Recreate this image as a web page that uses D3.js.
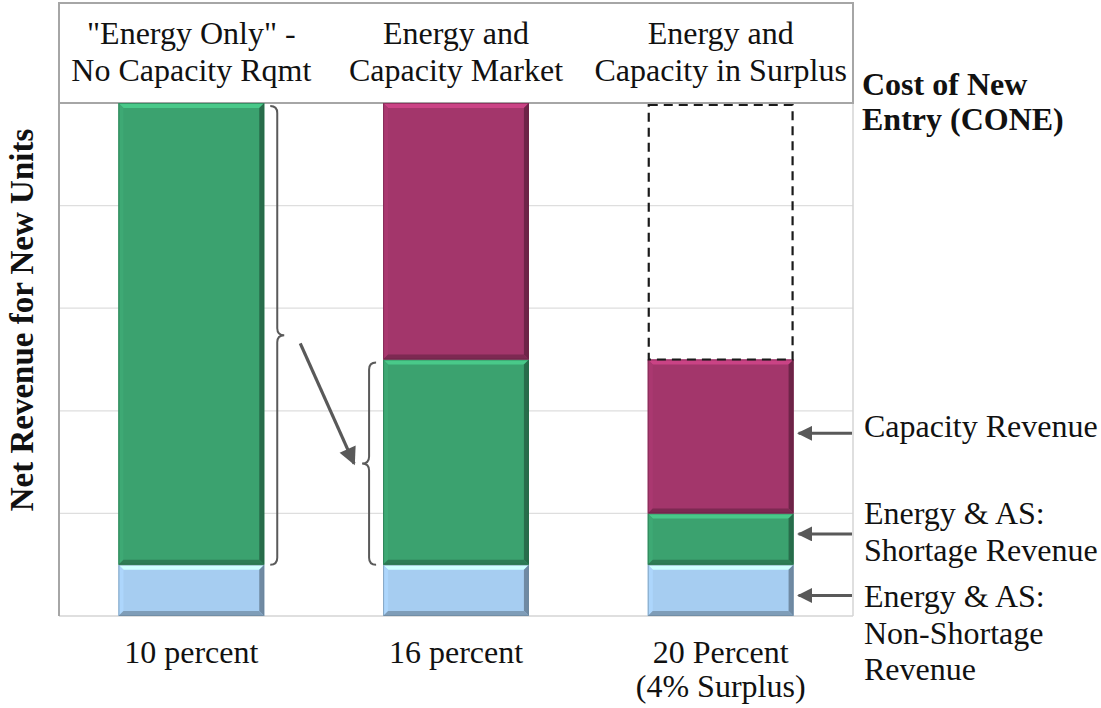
<!DOCTYPE html>
<html>
<head>
<meta charset="utf-8">
<script src="https://cdn.jsdelivr.net/npm/d3@7"></script>
<style>
  html, body { margin: 0; padding: 0; background: #fff; }
  svg { display: block; }
  text { font-family: "Times New Roman", "Liberation Serif", serif; font-weight: 400; fill: #111; }
</style>
</head>
<body>
<svg id="chart" width="1101" height="708"></svg>
<script>
// Market designs (column headers) and reserve-margin tick labels
const headers = [
  ["\"Energy Only\" -", "No Capacity Rqmt"],
  ["Energy and", "Capacity Market"],
  ["Energy and", "Capacity in Surplus"]
];
const tickLabels = [["10 percent"], ["16 percent"], ["20 Percent", "(4% Surplus)"]];
const categories = ["energyOnly", "capacityMarket", "surplus"];

// Net revenue components (relative units; CONE = 5)
const nonShortage = [0.5, 0.5, 0.5];
const shortage    = [4.5, 2.0, 0.5];
const capacity    = [0.0, 2.5, 1.5];
const cone = 5;
const gridTicks = [1, 2, 3, 4];

const seriesNames = ["Non-Shortage", "Shortage", "Capacity"];
const seriesColors = ["#a6cdf1", "#3ba26f", "#a3366b"];

const svg = d3.select("#chart");
const frame = { left: 59, right: 853, top: 3, headerBottom: 103, bottom: 616 };

const x = d3.scaleBand().domain(categories).range([frame.left, frame.right]).paddingInner(0.449).paddingOuter(0.2245);
const y = d3.scaleLinear().domain([0, cone]).range([frame.bottom, frame.headerBottom]);

// Gridlines
svg.append("g").selectAll("line").data(gridTicks).join("line")
  .attr("x1", frame.left).attr("x2", frame.right)
  .attr("y1", d => y(d)).attr("y2", d => y(d))
  .attr("stroke", "#dedede").attr("stroke-width", 1.2);

// Plot frame: right and bottom light, left darker
svg.append("line").attr("x1", frame.right).attr("x2", frame.right)
  .attr("y1", frame.headerBottom).attr("y2", frame.bottom)
  .attr("stroke", "#d4d4d4").attr("stroke-width", 1.5);
svg.append("line").attr("x1", frame.left).attr("x2", frame.right)
  .attr("y1", frame.bottom).attr("y2", frame.bottom)
  .attr("stroke", "#d4d4d4").attr("stroke-width", 1.5);
svg.append("line").attr("x1", frame.left).attr("x2", frame.left)
  .attr("y1", frame.headerBottom).attr("y2", frame.bottom)
  .attr("stroke", "#a6a6a6").attr("stroke-width", 2);

// Header box
svg.append("rect").attr("x", frame.left).attr("y", frame.top)
  .attr("width", frame.right - frame.left).attr("height", frame.headerBottom - frame.top)
  .attr("fill", "none").attr("stroke", "#a6a6a6").attr("stroke-width", 2);

const headerG = svg.append("g");
categories.forEach((c, i) => {
  const t = headerG.append("text").attr("x", x(c) + x.bandwidth() / 2).attr("text-anchor", "middle")
    .style("font-size", "32px");
  headers[i].forEach((line, j) => {
    t.append("tspan").attr("x", x(c) + x.bandwidth() / 2).attr("y", 44 + j * 37).text(line);
  });
});

// Stacked segments
const rows = categories.map((c, i) => ({ cat: c, "Non-Shortage": nonShortage[i], "Shortage": shortage[i], "Capacity": capacity[i] }));
const stacked = d3.stack().keys(seriesNames)(rows);

function bevelBar(g, x0, y0, w, h, color) {
  const b = 5;
  const base = d3.color(color);
  g.append("rect").attr("x", x0).attr("y", y0).attr("width", w).attr("height", h).attr("fill", base);
  const polys = [
    { pts: [[x0, y0], [x0 + w, y0], [x0 + w - b, y0 + b], [x0 + b, y0 + b]], c: base.brighter(0.6) },
    { pts: [[x0, y0], [x0 + b, y0 + b], [x0 + b, y0 + h - b], [x0, y0 + h]], c: base.brighter(0.12) },
    { pts: [[x0 + w, y0], [x0 + w, y0 + h], [x0 + w - b, y0 + h - b], [x0 + w - b, y0 + b]], c: base.darker(1.1) },
    { pts: [[x0, y0 + h], [x0 + w, y0 + h], [x0 + w - b, y0 + h - b], [x0 + b, y0 + h - b]], c: base.darker(0.75) }
  ];
  polys.forEach(p => g.append("polygon").attr("points", p.pts.map(q => q.join(",")).join(" ")).attr("fill", p.c));
  g.append("rect").attr("x", x0 + 0.5).attr("y", y0 + 0.5).attr("width", w - 1).attr("height", h - 1)
    .attr("fill", "none").attr("stroke", base.darker(1.3)).attr("stroke-opacity", 0.55).attr("stroke-width", 1);
}

const barsG = svg.append("g");
stacked.forEach((layer, li) => {
  layer.forEach(d => {
    const h = y(d[0]) - y(d[1]);
    if (h <= 0) return;
    bevelBar(barsG, x(d.data.cat), y(d[1]), x.bandwidth(), h, seriesColors[li]);
  });
});

// Dashed outline: remaining gap up to CONE for the surplus case
const sIdx = 2;
const sTotal = nonShortage[sIdx] + shortage[sIdx] + capacity[sIdx];
svg.append("rect")
  .attr("x", x(categories[sIdx]) + 1).attr("y", y(cone) + 2)
  .attr("width", x.bandwidth() - 2).attr("height", y(sTotal) - y(cone) - 2)
  .attr("fill", "none").attr("stroke", "#1a1a1a").attr("stroke-width", 2.2)
  .attr("stroke-dasharray", "9,6");

// Curly braces
function brace(x0, y0, y1, dir) {
  const r = 7 * dir, v = 7;
  const ym = (y0 + y1) / 2;
  return `M${x0},${y0} Q${x0 + r},${y0} ${x0 + r},${y0 + v} L${x0 + r},${ym - v} Q${x0 + r},${ym} ${x0 + 2 * r},${ym}` +
         ` Q${x0 + r},${ym} ${x0 + r},${ym + v} L${x0 + r},${y1 - v} Q${x0 + r},${y1} ${x0},${y1}`;
}
const b1x = x(categories[0]) + x.bandwidth() + 6;
const b1y0 = y(nonShortage[0] + shortage[0]) + 3, b1y1 = y(nonShortage[0]);
const b2x = x(categories[1]) - 7;
const b2y0 = y(nonShortage[1] + shortage[1]) + 3, b2y1 = y(nonShortage[1]);
svg.append("path").attr("d", brace(b1x, b1y0, b1y1, 1)).attr("fill", "none").attr("stroke", "#5a5a5a").attr("stroke-width", 2);
svg.append("path").attr("d", brace(b2x, b2y0, b2y1, -1)).attr("fill", "none").attr("stroke", "#5a5a5a").attr("stroke-width", 2);

// Arrow heads
const defs = svg.append("defs");
defs.append("marker").attr("id", "head").attr("viewBox", "0 0 10 10")
  .attr("refX", 9).attr("refY", 5).attr("markerWidth", 5).attr("markerHeight", 5)
  .attr("markerUnits", "strokeWidth").attr("orient", "auto")
  .append("path").attr("d", "M0,0 L10,5 L0,10 z").attr("fill", "#595959");
defs.append("marker").attr("id", "bighead").attr("viewBox", "0 0 10 10")
  .attr("refX", 9).attr("refY", 5).attr("markerWidth", 6.5).attr("markerHeight", 5.5)
  .attr("markerUnits", "strokeWidth").attr("orient", "auto")
  .append("path").attr("d", "M0,0 L10,5 L0,10 z").attr("fill", "#595959");

// Arrow from energy-only shortage revenue to capacity-market shortage revenue
const m1 = (b1y0 + b1y1) / 2, m2 = (b2y0 + b2y1) / 2;
svg.append("line").attr("x1", b1x + 30).attr("y1", m1 + 8).attr("x2", b2x - 22).attr("y2", m2)
  .attr("stroke", "#595959").attr("stroke-width", 3.2).attr("marker-end", "url(#bighead)");

// Right-hand component labels with pointer arrows
const xr = x(categories[2]) + x.bandwidth();
const pointerLevels = [
  (capacity[2] > 0) ? (nonShortage[2] + shortage[2] + capacity[2] * 0.52) : 0,
  nonShortage[2] + shortage[2] * 0.6,
  nonShortage[2] * 0.4
];
pointerLevels.forEach(v => {
  svg.append("line").attr("x1", frame.right - 1).attr("y1", y(v)).attr("x2", xr + 5).attr("y2", y(v))
    .attr("stroke", "#595959").attr("stroke-width", 3).attr("marker-end", "url(#head)");
});

const rightLabels = [
  { lines: ["Capacity Revenue"], y: 437 },
  { lines: ["Energy & AS:", "Shortage Revenue"], y: 524 },
  { lines: ["Energy & AS:", "Non-Shortage", "Revenue"], y: 607 }
];
rightLabels.forEach(l => {
  const t = svg.append("text").style("font-size", "32px");
  l.lines.forEach((s, j) => t.append("tspan").attr("x", 864).attr("y", l.y + j * 36.5).text(s));
});

// CONE label
const cTxt = svg.append("text").style("font-size", "32px").style("font-weight", "bold");
["Cost of New", "Entry (CONE)"].forEach((s, j) => cTxt.append("tspan").attr("x", 862).attr("y", 95 + j * 35).text(s));

// Reserve-margin labels below the bars
categories.forEach((c, i) => {
  const t = svg.append("text").attr("text-anchor", "middle").style("font-size", "32px");
  tickLabels[i].forEach((s, j) => t.append("tspan").attr("x", x(c) + x.bandwidth() / 2).attr("y", 663 + j * 34).text(s));
});

// Y-axis title
svg.append("text").attr("transform", "translate(33,320) rotate(-90)").attr("text-anchor", "middle")
  .style("font-size", "33px").style("font-weight", "bold").text("Net Revenue for New Units");
</script>
</body>
</html>
